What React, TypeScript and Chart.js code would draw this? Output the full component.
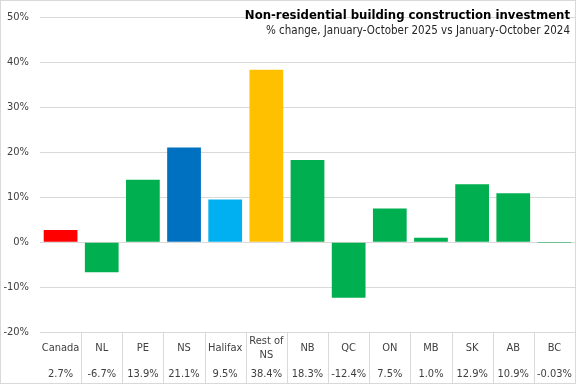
import React, { useEffect, useRef } from "react";
import { Chart, registerables } from "chart.js";

Chart.register(...registerables);

const categories: string[][] = [
  ["Canada"], ["NL"], ["PE"], ["NS"], ["Halifax"], ["Rest of", "NS"],
  ["NB"], ["QC"], ["ON"], ["MB"], ["SK"], ["AB"], ["BC"],
];
const values = [2.7, -6.7, 13.9, 21.1, 9.5, 38.4, 18.3, -12.4, 7.5, 1.0, 12.9, 10.9, -0.03];
const valueLabels = ["2.7%", "-6.7%", "13.9%", "21.1%", "9.5%", "38.4%", "18.3%", "-12.4%", "7.5%", "1.0%", "12.9%", "10.9%", "-0.03%"];
const barColors = [
  "#FF0000", "#00B050", "#00B050", "#0070C0", "#00B0F0", "#FFC000",
  "#00B050", "#00B050", "#00B050", "#00B050", "#00B050", "#00B050", "#00B050",
];
const yMin = -20;
const yMax = 50;
const yStep = 10;
const titleText = "Non-residential building construction investment";
const subtitleText = "% change, January-October 2025 vs January-October 2024";

const FONT = "'Liberation Sans Narrow', 'DejaVu Sans Condensed', 'Liberation Sans', sans-serif";
const TEXT = "#404040";
const GRID = "#D9D9D9";

const decorPlugin = {
  id: "decor",
  afterDraw(chart: any) {
    const ctx = chart.ctx as CanvasRenderingContext2D;
    const xs = chart.scales.x;
    const area = chart.chartArea;
    const W = chart.width;
    const H = chart.height;
    const n = categories.length;
    const step = xs.getPixelForValue(1) - xs.getPixelForValue(0);
    const tableBottom = H - 1.5;
    ctx.save();
    // table separators
    ctx.strokeStyle = GRID;
    ctx.lineWidth = 1;
    for (let i = 0; i < n; i++) {
      const bx = Math.round(xs.getPixelForValue(i) + step / 2) + 0.5;
      ctx.beginPath();
      ctx.moveTo(bx, area.bottom);
      ctx.lineTo(bx, tableBottom);
      ctx.stroke();
    }
    // table text
    ctx.fillStyle = TEXT;
    ctx.textAlign = "center";
    ctx.textBaseline = "middle";
    ctx.font = `11px ${FONT}`;
    for (let i = 0; i < n; i++) {
      const cx = xs.getPixelForValue(i);
      const lines = categories[i];
      const lh = 14;
      const cy = area.bottom + 16;
      lines.forEach((ln, k) => {
        ctx.fillText(ln, cx, cy + (k - (lines.length - 1) / 2) * lh);
      });
      ctx.fillText(valueLabels[i], cx, area.bottom + 42);
    }
    // title
    ctx.textAlign = "right";
    ctx.fillStyle = "#000000";
    ctx.font = `bold 13px ${FONT}`;
    ctx.fillText(titleText, W - 7, 15.5);
    ctx.fillStyle = "#262626";
    ctx.font = `11.5px ${FONT}`;
    ctx.fillText(subtitleText, W - 7, 31.5);
    // outer border
    ctx.strokeStyle = GRID;
    ctx.strokeRect(0.5, 0.5, W - 2, H - 2);
    ctx.restore();
  },
};

export default function App() {
  const ref = useRef<HTMLCanvasElement>(null);
  useEffect(() => {
    if (!ref.current) return;
    const chart = new Chart(ref.current, {
      type: "bar",
      data: {
        labels: categories.map((c) => c.join(" ")),
        datasets: [
          {
            data: values,
            backgroundColor: barColors,
            borderWidth: 0,
            barPercentage: 0.82,
            categoryPercentage: 1,
          },
        ],
      },
      options: {
        animation: false,
        responsive: false,
        devicePixelRatio: 1,
        layout: { padding: { top: 10, right: 2, left: 0, bottom: 0 } },
        plugins: {
          legend: { display: false },
          tooltip: { enabled: false },
          title: { display: false },
        },
        scales: {
          x: {
            grid: { display: false },
            border: { display: false },
            ticks: { display: false },
            afterFit: (s: any) => {
              s.height = 53;
            },
          },
          y: {
            min: yMin,
            max: yMax,
            grid: { color: GRID, drawTicks: false },
            border: { display: false },
            ticks: {
              stepSize: yStep,
              padding: 11,
              color: TEXT,
              font: { family: FONT, size: 11 },
              callback: (v: any) => `${v}%`,
            },
            afterFit: (s: any) => {
              s.width = 40;
            },
          },
        },
      },
      plugins: [decorPlugin],
    });
    return () => chart.destroy();
  }, []);
  return (
    <div style={{ position: "fixed", left: 0, top: 0, width: 577, height: 385, background: "#fff" }}>
      <canvas ref={ref} width={577} height={385} />
    </div>
  );
}
